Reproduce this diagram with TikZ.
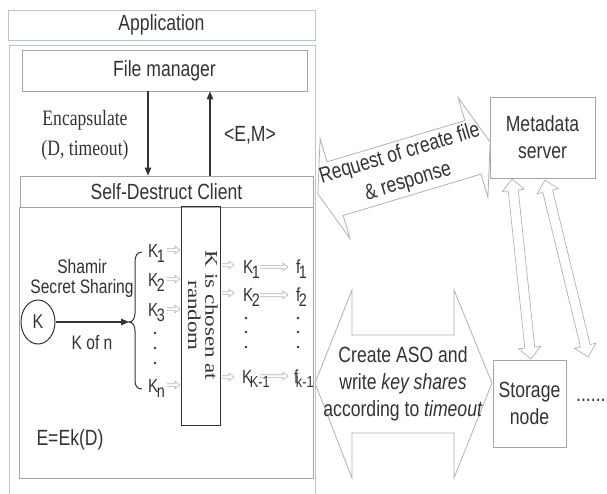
\documentclass[tikz,border=0pt]{standalone}
\usepackage{fontspec}
\usepackage{graphicx}
\setmainfont{Liberation Sans}[FakeStretch=0.8]
\newfontfamily\serifS{Liberation Serif}[FakeStretch=0.8]
\newfontfamily\serifN{Liberation Serif}
\usetikzlibrary{arrows.meta,shapes.geometric,calc}
\definecolor{txt}{HTML}{333333}
\definecolor{bluegray}{HTML}{B7C6D6}
\definecolor{boxgray}{HTML}{A5A5A5}
\definecolor{arrgray}{HTML}{B2B2B2}
\newcommand\Ks[2]{#1\kern-1.5pt\raisebox{-5pt}{\fontsize{18}{18}\selectfont #2}}
\newcommand\Kt[2]{#1\kern-2.5pt\raisebox{-4pt}{\fontsize{16}{16}\selectfont #2}}
\begin{document}
\begin{tikzpicture}[x=1pt,y=-1pt,
  every node/.style={inner sep=0pt, text=txt},
  big/.style={font=\fontsize{22}{27}\selectfont},
  mid/.style={font=\fontsize{19.5}{20}\selectfont},
  kfont/.style={font=\fontsize{19}{20}\selectfont},
  box/.style={draw=boxgray, line width=0.8pt},
  pane/.style={draw=bluegray, line width=1pt},
  darr/.style={draw=txt, line width=1.2pt, -{Triangle[length=8pt,width=6.5pt]}},
  hol/.style={draw=arrgray, line width=0.8pt, fill=white, line join=miter},
  smallarr/.style={draw=arrgray, line width=0.6pt},
  pics/harr/.style={code={\draw[smallarr] (0,-1.3) -- (#1-5,-1.3) -- (#1-5,-3.8) -- (#1,0) -- (#1-5,3.8) -- (#1-5,1.3) -- (0,1.3);}}
]
\useasboundingbox (0,0) rectangle (607,493);

% outer panes
\node[pane, big, minimum width=307pt, minimum height=30pt] (app) at (161.5,25) {Application};
\draw[pane] (9,45) rectangle (315,500);
\node[box, big, minimum width=285pt, minimum height=41pt] (fm) at (164.5,70.5) {File manager};
\node[box, big, minimum width=293pt, minimum height=31pt] (sdct) at (166.5,191.5) {Self-Destruct Client};
\draw[box] (sdct.south west) rectangle (313,478);

% encapsulate arrows
\draw[darr] ($(fm.south)+(-16.5,0)$) -- ($(sdct.north)+(-18.5,0)$);
\draw[darr] ($(sdct.north)+(43.5,0)$) -- ($(fm.south)+(45.5,0)$);
\node[font=\serifS\fontsize{22}{30}\selectfont, align=center] (enc) at (85,135) {Encapsulate\\(D, timeout)};
\node[big] (em) at (250,135) {<E,M>};

% K and Shamir
\node[ellipse, draw=txt, line width=1pt, minimum width=34pt, minimum height=44pt, font=\fontsize{20}{20}\selectfont] (K) at (38,322) {K};
\coordinate (bp) at (129,322);
\draw[darr] (K.east) -- (bp);
\draw[txt, line width=1pt] (142,252) .. controls (137,252) and (135,256) .. (135,262) -- (135,313) .. controls (135,318) and (133,322) .. (bp) .. controls (133,322) and (135,326) .. (135,331) -- (135,380) .. controls (135,386) and (137,389) .. (142,389);
\node[mid, align=center] (sham) at (82,278) {Shamir\\Secret Sharing};
\node[mid] (kofn) at (92,343) {K of n};

% left K shares
\node[kfont, anchor=base west] (ka1) at (148,257) {\Ks{K}{1}};
\node[kfont, anchor=base west] (ka2) at (148,286) {\Ks{K}{2}};
\node[kfont, anchor=base west] (ka3) at (148,316) {\Ks{K}{3}};
\node[kfont, anchor=base west] (kan) at (148,392) {\Ks{K}{n}};
\foreach \y in {333,348,363} \fill[txt] (155,\y) circle (1.3);
\foreach \y in {250,279,309,385} \pic at (167,\y) {harr=13};

% random box
\node[draw=txt, line width=1pt, minimum width=39pt, minimum height=219pt] (rand) at (200.5,315.5) {};
\node[rotate=-90] (randt) at (rand.center) {\scalebox{1}[0.78]{\serifN\fontsize{23}{21}\selectfont\begin{tabular}{@{}c@{}}K is chosen at\\random\end{tabular}}};

% right K shares and f
\foreach \y in {265,293,377} \pic at (222,\y) {harr=12};
\foreach \y in {267,295,376} \pic at (260,\y) {harr=28};
\node[kfont, anchor=base west] (kb1) at (243,273) {\Ks{K}{1}};
\node[kfont, anchor=base west] (kb2) at (243,301) {\Ks{K}{2}};
\node[kfont, anchor=base west] (kbk) at (242,383) {\Kt{K}{K-1}};
\node[kfont, anchor=base west] (f1) at (296,273) {\Ks{f}{1}};
\node[kfont, anchor=base west] (f2) at (296,301) {\Ks{f}{2}};
\node[kfont, anchor=base west] (fk) at (294,383) {\Kt{f}{k-1}};
\foreach \y in {318,332,347} {\fill[txt] (246,\y) circle (1.3); \fill[txt] (298,\y) circle (1.3);}

\node[big] (eek) at (70,440) {E=Ek(D)};

% servers
\node[box, big, align=center, minimum width=105pt, minimum height=81pt] (meta) at (542.5,137.5) {Metadata\\server};
\node[box, big, align=center, minimum width=73pt, minimum height=87pt] (stor) at (529.5,403.5) {Storage\\node};
\node[big, anchor=base west] (more) at (576,401) {......};

% top big double arrow
\coordinate (ta) at (404,168);
\begin{scope}[shift={(ta)}, rotate=16.7]
\draw[hol] (-90,0) -- (-72,52) -- (-72,28) -- (72,28) -- (72,52) -- (90,0) -- (72,-52) -- (72,-28) -- (-72,-28) -- (-72,-52) -- cycle;
\end{scope}
\node[font=\fontsize{22}{29}\selectfont, align=center, rotate=16.7] (req) at (ta) {Request of create file\\\& response};

% bottom big double arrow
\draw[hol] (315,383) -- (352,290) -- (352,335) -- (454,335) -- (454,290) -- (492,383) -- (454,478) -- (454,433) -- (352,433) -- (352,478) -- cycle;
\node[big, align=center] (aso) at (403,384) {Create ASO and\\write \textit{key shares}\\according to \textit{timeout}};

% vertical double arrows
\coordinate (v1) at (521.5,269);
\begin{scope}[shift={(v1)}, rotate=-84]
\draw[hol, line width=0.7pt] (-90.5,0) -- (-79,11) -- (-79,5) -- (79,5) -- (79,11) -- (90.5,0) -- (79,-11) -- (79,-5) -- (-79,-5) -- (-79,-11) -- cycle;
\end{scope}
\coordinate (v2) at (566.5,268.5);
\begin{scope}[shift={(v2)}, rotate=-76.3]
\draw[hol, line width=0.7pt] (-91,0) -- (-79.5,11) -- (-79.5,5) -- (79.5,5) -- (79.5,11) -- (91,0) -- (79.5,-11) -- (79.5,-5) -- (-79.5,-5) -- (-79.5,-11) -- cycle;
\end{scope}
\end{tikzpicture}
\end{document}
